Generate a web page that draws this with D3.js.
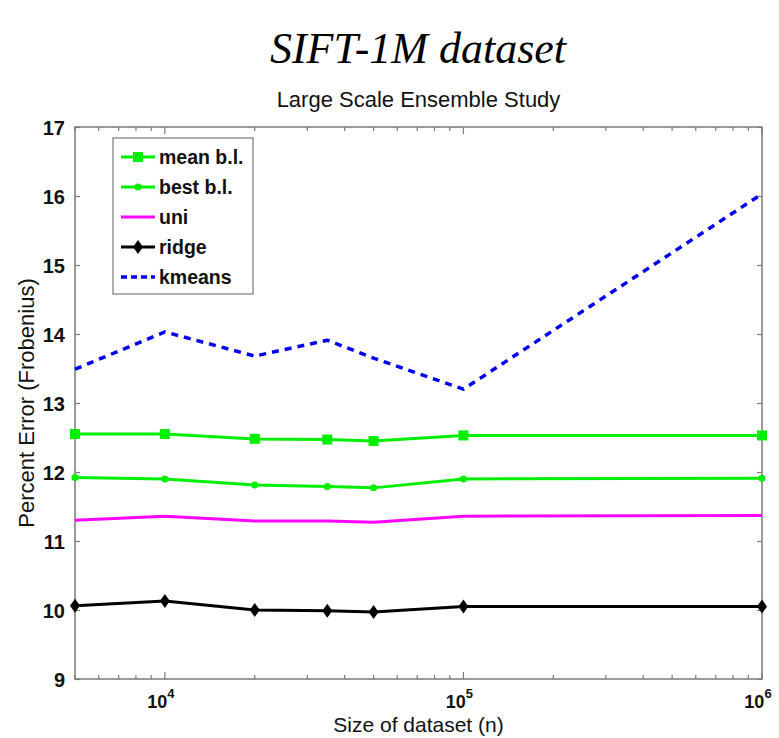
<!DOCTYPE html>
<html>
<head>
<meta charset="utf-8">
<script src="https://cdn.jsdelivr.net/npm/d3@7"></script>
<style>
  html, body { margin: 0; padding: 0; background: #fff; }
  svg { display: block; }
</style>
</head>
<body>
<svg id="chart" width="779" height="738"></svg>
<script>
// Dataset sizes (x) and percent error per method
const sizes = [5000, 10000, 20000, 35000, 50000, 100000, 1000000];
const meanBL = [12.55, 12.55, 12.48, 12.47, 12.45, 12.53, 12.53];
const bestBL = [11.92, 11.90, 11.81, 11.79, 11.77, 11.90, 11.91];
const uni    = [11.30, 11.36, 11.29, 11.29, 11.27, 11.36, 11.37];
const ridge  = [10.06, 10.13, 10.00, 9.99, 9.97, 10.05, 10.05];
const kmeans = [13.49, 14.03, 13.68, 13.91, 13.65, 13.20, 16.03];

const yTicks = [9, 10, 11, 12, 13, 14, 15, 16, 17];
const xMajor = [1e4, 1e5, 1e6];
const xMajorExp = ["4", "5", "6"];
const seriesNames = ["mean b.l.", "best b.l.", "uni", "ridge", "kmeans"];

const series = [
  { name: seriesNames[0], values: meanBL, color: "#00ee00", marker: "square", dash: null },
  { name: seriesNames[1], values: bestBL, color: "#00ee00", marker: "dot", dash: null },
  { name: seriesNames[2], values: uni,    color: "#ff00ff", marker: null, dash: null },
  { name: seriesNames[3], values: ridge,  color: "#000000", marker: "diamond", dash: null },
  { name: seriesNames[4], values: kmeans, color: "#0000ee", marker: null, dash: "7,6" }
];

const svg = d3.select("#chart");
const L = 75, R = 762, T = 127, B = 679;

const x = d3.scaleLog().domain([5000, 1e6]).range([L, R]);
const y = d3.scaleLinear().domain([9, 17]).range([B, T]);

const axisColor = "#7a7a7a";

// Main figure heading
svg.append("text")
  .attr("x", 418).attr("y", 63)
  .attr("text-anchor", "middle")
  .attr("font-family", "'Liberation Serif', 'Times New Roman', serif")
  .attr("font-style", "italic")
  .attr("font-size", 44)
  .attr("fill", "#000")
  .text("SIFT-1M dataset");

// Plot title
svg.append("text")
  .attr("x", (L + R) / 2).attr("y", 107)
  .attr("text-anchor", "middle")
  .attr("font-family", "'Liberation Sans', Arial, sans-serif")
  .attr("font-size", 22)
  .attr("fill", "#111")
  .text("Large Scale Ensemble Study");

// Plot box
svg.append("rect")
  .attr("x", L).attr("y", T).attr("width", R - L).attr("height", B - T)
  .attr("fill", "#fff").attr("stroke", axisColor).attr("stroke-width", 1.5);

// Y ticks (inside, both sides) and labels
const yAxisL = d3.axisLeft(y).tickValues(yTicks).tickSize(-5).tickFormat(d3.format("d")).tickPadding(10);
const gy = svg.append("g").attr("transform", `translate(${L},0)`).call(yAxisL);
gy.select(".domain").remove();
gy.selectAll(".tick line").attr("stroke", axisColor).attr("stroke-width", 1.2);
gy.selectAll(".tick text")
  .attr("font-family", "'Liberation Sans', Arial, sans-serif")
  .attr("font-weight", "bold").attr("font-size", 20).attr("fill", "#111")
  .attr("dy", "0.36em");

const yAxisR = d3.axisRight(y).tickValues(yTicks).tickSize(-5).tickFormat("");
const gyr = svg.append("g").attr("transform", `translate(${R},0)`).call(yAxisR);
gyr.select(".domain").remove();
gyr.selectAll(".tick line").attr("stroke", axisColor).attr("stroke-width", 1.2);

// X ticks: log minor ticks plus decades, bottom and top
const xMinor = [];
for (let e = 3; e < 6; e++) {
  for (let m = 2; m <= 9; m++) {
    const v = m * Math.pow(10, e);
    if (v >= 5000 && v < 1e6) xMinor.push(v);
  }
}
function drawXTicks(yPos, dir) {
  const g = svg.append("g");
  g.selectAll("line.minor").data(xMinor).join("line")
    .attr("x1", d => x(d)).attr("x2", d => x(d))
    .attr("y1", yPos).attr("y2", yPos + dir * 4)
    .attr("stroke", axisColor).attr("stroke-width", 1.2);
  g.selectAll("line.major").data(xMajor).join("line")
    .attr("x1", d => x(d)).attr("x2", d => x(d))
    .attr("y1", yPos).attr("y2", yPos + dir * 7)
    .attr("stroke", axisColor).attr("stroke-width", 1.2);
}
drawXTicks(B, -1);
drawXTicks(T, 1);

// Decade labels 10^k
const xl = svg.append("g").selectAll("text").data(xMajor).join("text")
  .attr("x", d => x(d) - 4).attr("y", 708)
  .attr("text-anchor", "middle")
  .attr("font-family", "'Liberation Sans', Arial, sans-serif")
  .attr("font-weight", "bold").attr("font-size", 18).attr("fill", "#111");
xl.append("tspan").text("10");
xl.append("tspan").attr("dy", -10).attr("font-size", 13).text((d, i) => xMajorExp[i]);

// Axis titles
svg.append("text")
  .attr("x", (L + R) / 2).attr("y", 732)
  .attr("text-anchor", "middle")
  .attr("font-family", "'Liberation Sans', Arial, sans-serif")
  .attr("font-size", 21).attr("fill", "#111")
  .text("Size of dataset (n)");

svg.append("text")
  .attr("transform", `translate(34,${(T + B) / 2}) rotate(-90)`)
  .attr("text-anchor", "middle")
  .attr("font-family", "'Liberation Sans', Arial, sans-serif")
  .attr("font-size", 22).attr("fill", "#111")
  .text("Percent Error (Frobenius)");

// Lines and markers
const line = d3.line().x((d, i) => x(sizes[i])).y(d => y(d));
const plot = svg.append("g");

function drawMarker(g, type, color, cx, cy) {
  if (type === "square") {
    g.append("rect").attr("x", cx - 5).attr("y", cy - 5).attr("width", 10).attr("height", 10)
      .attr("fill", color);
  } else if (type === "dot") {
    g.append("circle").attr("cx", cx).attr("cy", cy).attr("r", 3.5).attr("fill", color);
  } else if (type === "diamond") {
    g.append("path")
      .attr("d", `M${cx},${cy - 7}L${cx + 5},${cy}L${cx},${cy + 7}L${cx - 5},${cy}Z`)
      .attr("fill", color);
  }
}

series.forEach(s => {
  plot.append("path")
    .datum(s.values)
    .attr("d", line)
    .attr("fill", "none")
    .attr("stroke", s.color)
    .attr("stroke-width", s.dash ? 3.5 : 3)
    .attr("stroke-linejoin", "round")
    .attr("stroke-dasharray", s.dash);
  if (s.marker) {
    s.values.forEach((v, i) => drawMarker(plot, s.marker, s.color, x(sizes[i]), y(v)));
  }
});

// Legend
const lg = svg.append("g");
lg.append("rect")
  .attr("x", 113).attr("y", 138).attr("width", 140).attr("height", 156)
  .attr("fill", "#fff").attr("stroke", axisColor).attr("stroke-width", 1.2);
series.forEach((s, i) => {
  const ly = 157 + i * 30;
  lg.append("line")
    .attr("x1", 121).attr("x2", 155).attr("y1", ly).attr("y2", ly)
    .attr("stroke", s.color).attr("stroke-width", s.dash ? 3.5 : 3)
    .attr("stroke-dasharray", s.dash ? "6,4" : null);
  if (s.marker) drawMarker(lg, s.marker, s.color, 138, ly);
  lg.append("text")
    .attr("x", 159).attr("y", ly).attr("dy", "0.36em")
    .attr("font-family", "'Liberation Sans', Arial, sans-serif")
    .attr("font-weight", "bold").attr("font-size", 19.5).attr("fill", "#111")
    .text(s.name);
});
</script>
</body>
</html>
